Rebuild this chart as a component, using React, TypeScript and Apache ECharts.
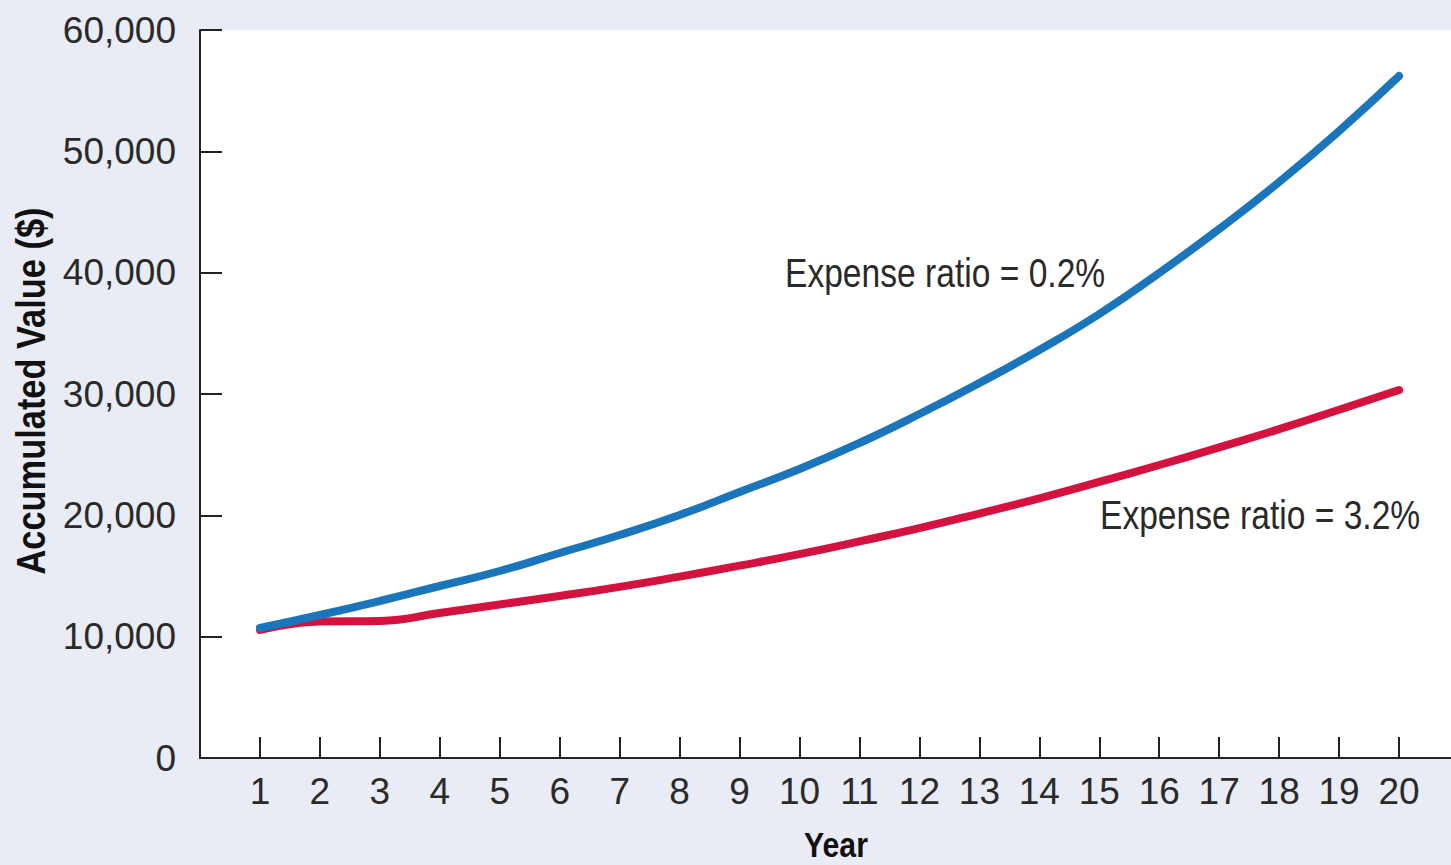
import React, { useEffect, useRef } from "react";
import * as echarts from "echarts";

const years = [1, 2, 3, 4, 5, 6, 7, 8, 9, 10, 11, 12, 13, 14, 15, 16, 17, 18, 19, 20];
const lowExpense = [10714, 11786, 12940, 14176, 15412, 16896, 18380, 20028, 21924, 23820, 25962, 28352, 30908, 33627, 36594, 39973, 43600, 47473, 51677, 56210];
const highExpense = [10550, 11250, 11300, 11950, 12650, 13350, 14100, 14950, 15850, 16800, 17850, 18950, 20150, 21400, 22750, 24150, 25600, 27100, 28700, 30330];
const yTicks = [0, 10000, 20000, 30000, 40000, 50000, 60000];
const lowLabel = "Expense ratio = 0.2%";
const highLabel = "Expense ratio = 3.2%";
const yTitle = "Accumulated Value ($)";
const xTitle = "Year";

const FONT = "'Liberation Sans', Arial, sans-serif";
const TEXT = "#2a2a2a";

const fmt = (v: number) => String(v).replace(/\B(?=(\d{3})+(?!\d))/g, ",");

export default function App() {
  const ref = useRef<HTMLDivElement>(null);
  useEffect(() => {
    document.body.style.margin = "0";
    const chart = echarts.init(ref.current!, undefined, { renderer: "svg" });
    chart.setOption({
      animation: false,
      backgroundColor: "#e9ecf4",
      grid: {
        left: 200,
        top: 30,
        bottom: 107,
        right: 21,
        show: true,
        backgroundColor: "#ffffff",
        borderWidth: 0,
      },
      xAxis: {
        type: "value",
        min: 0,
        max: 21,
        interval: 1,
        axisLine: { lineStyle: { color: "#222", width: 2 } },
        axisTick: { inside: true, length: 21, lineStyle: { color: "#222", width: 2 } },
        splitLine: { show: false },
        axisLabel: {
          margin: 15,
          fontSize: 37,
          fontFamily: FONT,
          color: TEXT,
          formatter: (v: number) => (years.includes(v) ? String(v) : ""),
        },
      },
      yAxis: {
        type: "value",
        min: yTicks[0],
        max: yTicks[yTicks.length - 1],
        interval: 10000,
        axisLine: { show: true, lineStyle: { color: "#222", width: 2 } },
        axisTick: { show: true, inside: true, length: 22, lineStyle: { color: "#222", width: 2 } },
        splitLine: { show: false },
        axisLabel: {
          margin: 24,
          fontSize: 37,
          fontFamily: FONT,
          color: TEXT,
          formatter: (v: number) => fmt(v),
        },
      },
      series: [
        {
          type: "line",
          data: years.map((y, i) => [y, lowExpense[i]]),
          showSymbol: false,
          smooth: 0.5,
          lineStyle: { color: "#1b75bb", width: 8, cap: "round", join: "round" },
          z: 3,
        },
        {
          type: "line",
          data: years.map((y, i) => [y, highExpense[i]]),
          showSymbol: false,
          smooth: 0.5,
          lineStyle: { color: "#d3123f", width: 8, cap: "round", join: "round" },
          z: 2,
        },
      ],
      graphic: [
        {
          type: "text",
          x: 31,
          y: 391,
          rotation: Math.PI / 2,
          scaleX: 0.86,
          style: {
            text: yTitle,
            font: `bold 40px ${FONT}`,
            fill: "#111",
            align: "center",
            verticalAlign: "middle",
          },
        },
        {
          type: "text",
          x: 836,
          y: 845,
          scaleX: 0.84,
          style: {
            text: xTitle,
            font: `bold 36px ${FONT}`,
            fill: "#111",
            align: "center",
            verticalAlign: "middle",
          },
        },
        {
          type: "text",
          x: 785,
          y: 273,
          scaleX: 0.84,
          style: {
            text: lowLabel,
            font: `40px ${FONT}`,
            fill: TEXT,
            align: "left",
            verticalAlign: "middle",
          },
        },
        {
          type: "text",
          x: 1100,
          y: 515,
          scaleX: 0.84,
          style: {
            text: highLabel,
            font: `40px ${FONT}`,
            fill: TEXT,
            align: "left",
            verticalAlign: "middle",
          },
        },
      ],
    });
    return () => chart.dispose();
  }, []);
  return (
    <div
      ref={ref}
      style={{ position: "fixed", left: 0, top: 0, width: 1480, height: 865 }}
    />
  );
}
